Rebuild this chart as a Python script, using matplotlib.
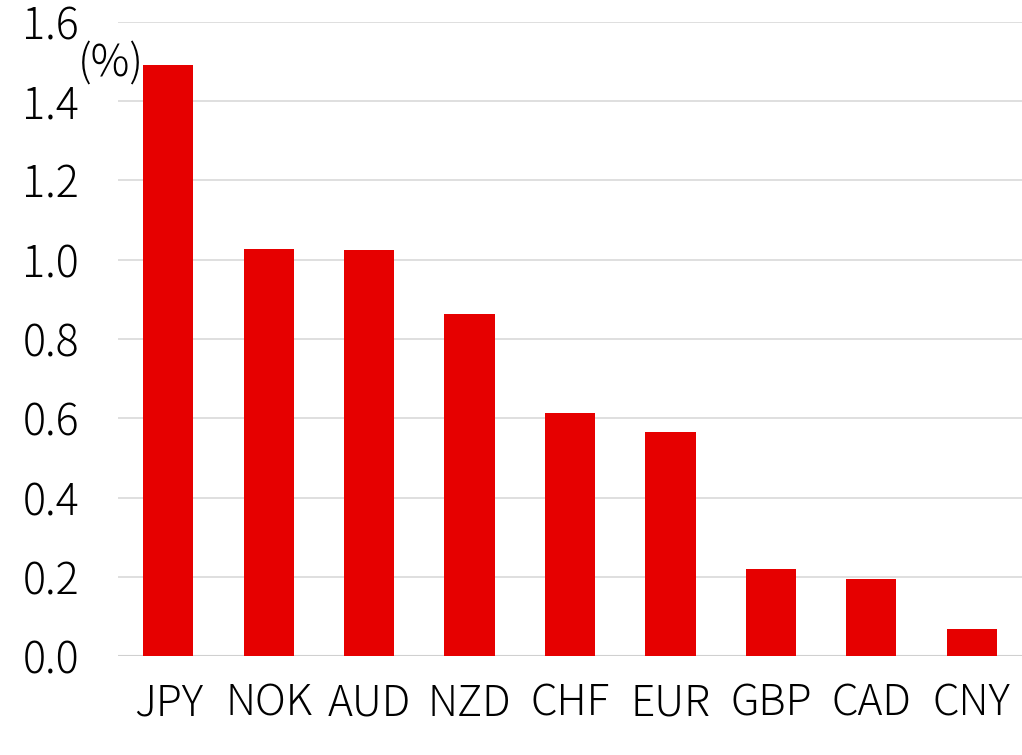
import matplotlib
matplotlib.use("Agg")
import matplotlib.pyplot as plt
import numpy as np

plt.rcParams["font.family"] = ["Noto Sans CJK JP", "DejaVu Sans"]
plt.rcParams["font.weight"] = "light"

currencies = ["JPY", "NOK", "AUD", "NZD", "CHF", "EUR", "GBP", "CAD", "CNY"]
values = [1.491, 1.027, 1.024, 0.863, 0.614, 0.565, 0.220, 0.194, 0.069]
y_ticks = [0.0, 0.2, 0.4, 0.6, 0.8, 1.0, 1.2, 1.4, 1.6]

fig = plt.figure(figsize=(10.22, 7.55), dpi=100)
ax = fig.add_axes([0.1155, 0.131, 0.8845, 0.840])

x = np.arange(len(currencies))
ax.bar(x, values, width=0.5, color="#E60000", zorder=3)

ax.set_xlim(-0.5, len(currencies) - 0.5)
ax.set_ylim(0, 1.6)
ax.set_yticks(y_ticks)
ax.set_yticklabels([f"{v:.1f}" for v in y_ticks])
ax.set_xticks(x)
ax.set_xticklabels(currencies)

ax.yaxis.grid(True, color="#d9d9d9", linewidth=1.2, zorder=0)
ax.axhline(0, color="#d0d0d0", linewidth=1.5, zorder=2)
for side in ["top", "right", "left", "bottom"]:
    ax.spines[side].set_visible(False)
ax.tick_params(axis="y", length=0, labelsize=31, pad=28)
ax.tick_params(axis="x", length=0, labelsize=30.5, pad=19)

ax.text(-0.24, 1.494, "(%)", fontsize=31, ha="right", va="center")

fig.savefig("out.png", dpi=100)
